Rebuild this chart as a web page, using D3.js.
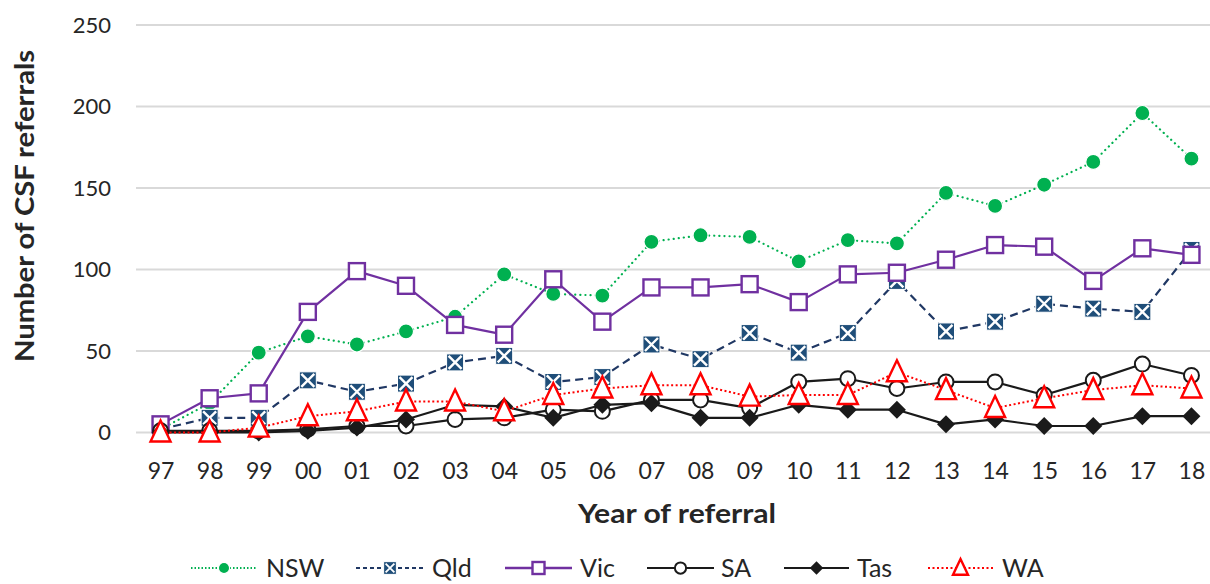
<!DOCTYPE html>
<html>
<head>
<meta charset="utf-8">
<script src="https://cdn.jsdelivr.net/npm/d3@7"></script>
<style>
  html, body { margin: 0; padding: 0; background: #fff; }
  svg { display: block; font-family: Lato, "Open Sans", sans-serif; }
</style>
</head>
<body>
<svg id="chart" width="1210" height="584"></svg>
<script>
const years = ["97","98","99","00","01","02","03","04","05","06","07","08","09","10","11","12","13","14","15","16","17","18"];
const nsw = [2,18,49,59,54,62,71,97,85,84,117,121,120,105,118,116,147,139,152,166,196,168];
const qld = [2,9,9,32,25,30,43,47,31,34,54,45,61,49,61,93,62,68,79,76,74,112];
const vic = [5,21,24,74,99,90,66,60,94,68,89,89,91,80,97,98,106,115,114,93,113,109];
const sa  = [1,1,1,2,4,4,8,9,14,13,20,20,15,31,33,27,31,31,23,32,42,35];
const tas = [0,0,0,1,3,8,17,16,9,17,18,9,9,17,14,14,5,8,4,4,10,10];
const wa  = [0,0,3,10,13,19,19,13,23,27,29,29,22,23,23,37,26,15,21,26,29,27];
const yTicks = [0,50,100,150,200,250];
const seriesNames = ["NSW","Qld","Vic","SA","Tas","WA"];

const series = [
  {name: "NSW", values: nsw, color: "#00b050", dash: "0.1 5", cap: "round", width: 2.2, marker: "dot"},
  {name: "Qld", values: qld, color: "#203864", dash: "8 5", cap: "butt", width: 2.2, marker: "xsq"},
  {name: "Vic", values: vic, color: "#7030a0", dash: null, cap: "butt", width: 2.2, marker: "sq"},
  {name: "SA",  values: sa,  color: "#1a1a1a", dash: null, cap: "butt", width: 2.2, marker: "circ"},
  {name: "Tas", values: tas, color: "#1a1a1a", dash: null, cap: "butt", width: 2.2, marker: "dia"},
  {name: "WA",  values: wa,  color: "#ff0000", dash: "2 2.5", cap: "butt", width: 2, marker: "tri"}
];

const svg = d3.select("#chart");
const x = d3.scalePoint().domain(years).range([136, 1216]).padding(0.5);
const y = d3.scaleLinear().domain([0, 250]).range([432.5, 25]);

// gridlines
svg.append("g").selectAll("line").data(yTicks).join("line")
  .attr("x1", 136).attr("x2", 1210)
  .attr("y1", d => y(d)).attr("y2", d => y(d))
  .attr("stroke", "#d9d9d9").attr("stroke-width", 2);

// y axis labels
const yAxis = d3.axisLeft(y).tickValues(yTicks).tickSize(0).tickPadding(0);
const yg = svg.append("g").attr("transform", "translate(111,0)").call(yAxis);
yg.select(".domain").remove();
yg.selectAll("text").attr("font-size", 22).attr("fill", "#262626")
  .attr("font-family", "Lato, sans-serif");

// x axis labels
const xAxis = d3.axisBottom(x).tickSize(0).tickPadding(0);
const xg = svg.append("g").attr("transform", "translate(0,462)").call(xAxis);
xg.select(".domain").remove();
xg.selectAll("text").attr("font-size", 23).attr("fill", "#262626")
  .attr("font-family", "Lato, sans-serif").attr("dy", "0.72em");

// titles
svg.append("text").attr("x", 677).attr("y", 523).attr("text-anchor", "middle")
  .attr("font-size", 26).attr("font-weight", "bold").attr("fill", "#262626")
  .attr("textLength", 198).attr("lengthAdjust", "spacingAndGlyphs")
  .text("Year of referral");
svg.append("text").attr("transform", "translate(34,206) rotate(-90)")
  .attr("text-anchor", "middle")
  .attr("font-size", 26).attr("font-weight", "bold").attr("fill", "#262626")
  .attr("textLength", 312).attr("lengthAdjust", "spacingAndGlyphs")
  .text("Number of CSF referrals");

function drawMarker(g, type, color, cx, cy, scale) {
  const s = scale || 1;
  if (type === "dot") {
    g.append("circle").attr("cx", cx).attr("cy", cy).attr("r", 7.5 * s)
      .attr("fill", color).attr("stroke", "#fff").attr("stroke-width", 1.2);
  } else if (type === "xsq") {
    const h = 8.5 * s;
    g.append("rect").attr("x", cx - h).attr("y", cy - h).attr("width", 2 * h).attr("height", 2 * h)
      .attr("fill", "#1f4e79").attr("stroke", "#fff").attr("stroke-width", 1);
    const k = h - 2;
    g.append("path").attr("d", `M${cx - k},${cy - k}L${cx + k},${cy + k}M${cx - k},${cy + k}L${cx + k},${cy - k}`)
      .attr("stroke", "#fff").attr("stroke-width", 2.4 * s);
  } else if (type === "sq") {
    const h = 8 * s;
    g.append("rect").attr("x", cx - h).attr("y", cy - h).attr("width", 2 * h).attr("height", 2 * h)
      .attr("fill", "#fff").attr("stroke", color).attr("stroke-width", 2.4);
  } else if (type === "circ") {
    g.append("circle").attr("cx", cx).attr("cy", cy).attr("r", 7.5 * s)
      .attr("fill", "#fff").attr("stroke", color).attr("stroke-width", 2);
  } else if (type === "dia") {
    const h = 9 * s;
    g.append("path").attr("d", `M${cx},${cy - h}L${cx + h},${cy}L${cx},${cy + h}L${cx - h},${cy}Z`)
      .attr("fill", color);
  } else if (type === "tri") {
    const w = 10 * s, hTop = 12 * s, hBot = 9 * s;
    g.append("path").attr("d", `M${cx},${cy - hTop}L${cx + w},${cy + hBot}L${cx - w},${cy + hBot}Z`)
      .attr("fill", "#fff").attr("stroke", color).attr("stroke-width", 2.4).attr("stroke-linejoin", "miter");
  }
}

const line = d3.line().x((d, i) => x(years[i])).y(d => y(d));

series.forEach(s => {
  const g = svg.append("g");
  g.append("path").datum(s.values).attr("d", line)
    .attr("fill", "none").attr("stroke", s.color).attr("stroke-width", s.width)
    .attr("stroke-dasharray", s.dash).attr("stroke-linecap", s.cap).attr("stroke-linejoin", "round");
  s.values.forEach((v, i) => drawMarker(g, s.marker, s.color, x(years[i]), y(v), 1));
});

// legend
const legendPos = [
  {lx1: 191, lx2: 257, tx: 266},
  {lx1: 356, lx2: 424, tx: 432},
  {lx1: 505, lx2: 572, tx: 580},
  {lx1: 647, lx2: 714, tx: 721},
  {lx1: 784, lx2: 849, tx: 857},
  {lx1: 928, lx2: 993, tx: 1002}
];
const ly = 568;
series.forEach((s, i) => {
  const p = legendPos[i];
  const g = svg.append("g");
  g.append("line").attr("x1", p.lx1).attr("x2", p.lx2).attr("y1", ly).attr("y2", ly)
    .attr("stroke", s.color).attr("stroke-width", s.marker === "sq" ? 2.4 : 2)
    .attr("stroke-dasharray", s.dash === "0.1 5" ? "1.5 2" : (s.dash === "8 5" ? "4 3" : s.dash));
  drawMarker(g, s.marker, s.color, (p.lx1 + p.lx2) / 2, ly, 0.75);
  g.append("text").attr("x", p.tx).attr("y", ly).attr("dy", "0.36em")
    .attr("font-size", 25).attr("fill", "#262626").text(seriesNames[i]);
});
</script>
</body>
</html>
